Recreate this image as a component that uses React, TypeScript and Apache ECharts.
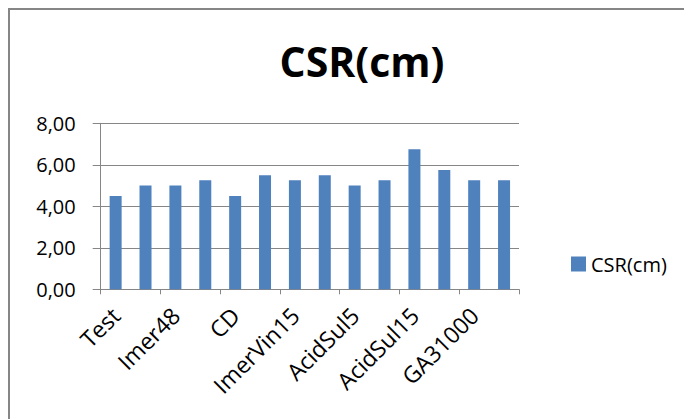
import React, { useEffect, useRef } from "react";
import * as echarts from "echarts";

const categories = [
  "Test", "Imer24", "Imer48", "Imer72", "CD", "ImerVin5", "ImerVin15",
  "AcidSul1", "AcidSul5", "AcidSul10", "AcidSul15", "GA3500", "GA31000", "GA31500",
];
const csrValues = [4.5, 5.0, 5.0, 5.25, 4.5, 5.5, 5.25, 5.5, 5.0, 5.25, 6.75, 5.75, 5.25, 5.25];
const seriesName = "CSR(cm)";
const titleText = "CSR(cm)";

export default function App() {
  const ref = useRef<HTMLDivElement>(null);
  useEffect(() => {
    if (!ref.current) return;
    const chart = echarts.init(ref.current, null, { renderer: "svg" });
    const gray = "#868686";
    chart.setOption({
      animation: false,
      backgroundColor: "#ffffff",
      textStyle: { fontFamily: "Open Sans" },
      title: {
        text: titleText,
        left: 349,
        textAlign: "center",
        top: 27,
        textStyle: { fontFamily: "Open Sans", fontWeight: "bold", fontSize: 41, color: "#000" },
      },
      legend: {
        data: [seriesName],
        left: 558,
        top: 241,
        itemWidth: 15,
        itemHeight: 15,
        itemGap: 5,
        icon: "rect",
        textStyle: { fontFamily: "Open Sans", fontSize: 20, color: "#000" },
      },
      grid: { left: 92.7, top: 115.3, right: 173, bottom: 129.7, containLabel: false },
      xAxis: {
        type: "category",
        data: categories,
        axisLine: { lineStyle: { color: gray, width: 1 } },
        axisTick: { show: true, alignWithLabel: false, length: 5, lineStyle: { color: gray } },
        axisLabel: { interval: 1, rotate: 45, margin: 22, fontSize: 23, color: "#000", fontFamily: "Open Sans" },
      },
      yAxis: {
        type: "value",
        min: 0,
        max: 8,
        interval: 2,
        axisLine: { show: true, lineStyle: { color: gray, width: 1 } },
        axisTick: { show: true, inside: false, length: 8, lineStyle: { color: gray } },
        splitLine: { show: true, lineStyle: { color: gray, width: 1 } },
        axisLabel: {
          margin: 25,
          fontSize: 20,
          color: "#000",
          fontFamily: "Open Sans",
          formatter: (v: number) => v.toFixed(2).replace(".", ","),
        },
      },
      series: [
        {
          name: seriesName,
          type: "bar",
          data: csrValues,
          barWidth: 12,
          itemStyle: { color: "#4F81BD" },
        },
      ],
      graphic: [
        { type: "line", shape: { x1: 1, y1: 1, x2: 1, y2: 411 }, style: { stroke: gray, lineWidth: 2 } },
        { type: "line", shape: { x1: 0, y1: 1, x2: 684, y2: 1 }, style: { stroke: gray, lineWidth: 2 } },
      ],
    });
    return () => chart.dispose();
  }, []);
  return <div ref={ref} style={{ width: 684, height: 411 }} />;
}
